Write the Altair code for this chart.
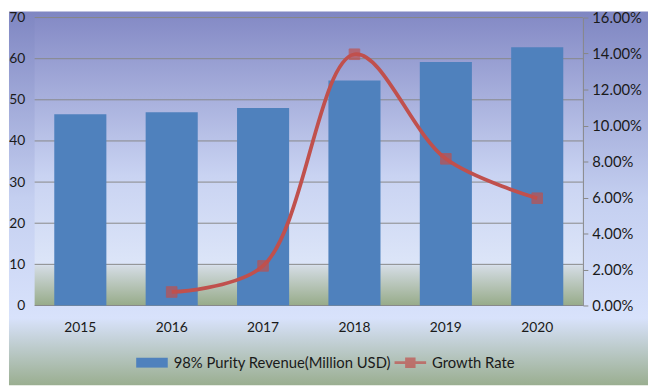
import altair as alt
import pandas as pd

# ---- data ----
years = ["2015", "2016", "2017", "2018", "2019", "2020"]
revenue = [46.5, 47.0, 48.0, 54.7, 59.2, 62.8]
growth_years = ["2016", "2017", "2018", "2019", "2020"]
growth = [0.0075, 0.022, 0.1396, 0.0815, 0.0596]
left_ticks = [0, 10, 20, 30, 40, 50, 60, 70]
right_ticks = [0, 0.02, 0.04, 0.06, 0.08, 0.10, 0.12, 0.14, 0.16]
rev_name = "98% Purity Revenue(Million USD)"
growth_name = "Growth Rate"

W, H = 556, 292
FONT = "Lato"
TXT = "#1a1a1a"
BLUE = "#4F81BD"
RED = "#C0504D"
GRID = "#878787"

rev_df = pd.DataFrame({"year": years, "value": revenue, "series": rev_name})
gr_df = pd.DataFrame({"year": growth_years, "value": growth, "series": growth_name})
grid_df = pd.DataFrame({"value": left_ticks})
one = pd.DataFrame({"k": [0]})

grad_outer = {
    "gradient": "linear", "x1": 0, "y1": 0, "x2": 0, "y2": 1,
    "stops": [
        {"offset": 0.0, "color": "#7f86c2"},
        {"offset": 0.5, "color": "#c4cff0"},
        {"offset": 0.82, "color": "#d8e2fb"},
        {"offset": 1.0, "color": "#9aae90"},
    ],
}
grad_plot = {
    "gradient": "linear", "x1": 0, "y1": 0, "x2": 0, "y2": 1,
    "stops": [
        {"offset": 0.0, "color": "#858bc6"},
        {"offset": 0.55, "color": "#c9d3f2"},
        {"offset": 0.855, "color": "#dce5f8"},
        {"offset": 0.865, "color": "#d3dbe2"},
        {"offset": 1.0, "color": "#97ab89"},
    ],
}

bg_outer = alt.Chart(one).mark_rect(fill=grad_outer).encode(
    x=alt.value(-26), x2=alt.value(622), y=alt.value(-6), y2=alt.value(373)
)
bg_plot = alt.Chart(one).mark_rect(fill=grad_plot).encode(
    x=alt.value(0), x2=alt.value(W), y=alt.value(0), y2=alt.value(H)
)

x_axis = alt.Axis(title=None, labelAngle=0, domain=False, ticks=False,
                  labelFont=FONT, labelFontSize=14, labelColor=TXT,
                  labelPadding=15, zindex=1)
x_scale = alt.Scale(domain=years, paddingInner=0.43, paddingOuter=0.215)

left_scale = alt.Scale(domain=[0, 70], nice=False, zero=True)
right_scale = alt.Scale(domain=[0, 0.16], nice=False, zero=True)

left_axis = alt.Axis(title=None, values=left_ticks, grid=False, domain=False,
                     ticks=False, labelFont=FONT, labelFontSize=14,
                     labelColor=TXT, labelPadding=10, zindex=1)

grid = alt.Chart(grid_df).mark_rule(color=GRID, strokeWidth=1).encode(
    y=alt.Y("value:Q", scale=left_scale, axis=left_axis)
)

bars = alt.Chart(rev_df).mark_bar().encode(
    x=alt.X("year:O", scale=x_scale, axis=x_axis),
    y=alt.Y("value:Q", scale=left_scale, axis=left_axis),
    fill=alt.Fill("series:N", scale=alt.Scale(domain=[rev_name], range=[BLUE]),
                  legend=alt.Legend(title=None, orient="none", legendX=103, legendY=334,
                                    symbolType="M-1,-0.3125H1V0.3125H-1Z",
                                    symbolSize=1024, symbolStrokeWidth=0,
                                    labelFont=FONT, labelFontSize=15, labelColor=TXT,
                                    labelOffset=6, labelLimit=400, padding=0, zindex=1)),
)

stroke_enc = alt.Stroke("series:N", scale=alt.Scale(domain=[growth_name], range=[RED]),
                        legend=alt.Legend(title=None, orient="none", legendX=365, legendY=334,
                                          symbolType="M-1,-0.09H1V0.09H-1Z M-0.33,-0.33H0.33V0.33H-0.33Z",
                                          symbolSize=1024, symbolStrokeWidth=0,
                                          symbolFillColor=RED,
                                          labelFont=FONT, labelFontSize=15, labelColor=TXT,
                                          labelOffset=6, labelLimit=400, padding=0, zindex=1))

right_axis = alt.Axis(title=None, orient="right", values=right_ticks, format=".2%",
                      grid=False, domain=True, domainColor=GRID, ticks=True,
                      tickColor=GRID, tickSize=5, labelFont=FONT, labelFontSize=15,
                      labelColor=TXT, labelPadding=4, zindex=1)

line = alt.Chart(gr_df).mark_line(interpolate="catmull-rom", strokeWidth=3.8).encode(
    x=alt.X("year:O", scale=x_scale, axis=x_axis),
    y=alt.Y("value:Q", scale=right_scale, axis=right_axis),
    stroke=stroke_enc,
)
points = alt.Chart(gr_df).mark_square(size=115, fill=RED, strokeWidth=1).encode(
    x=alt.X("year:O", scale=x_scale, axis=x_axis),
    y=alt.Y("value:Q", scale=right_scale, axis=right_axis),
    stroke=stroke_enc,
)

rev_layer = alt.layer(grid, bars)
gr_layer = alt.layer(line, points)

chart = alt.layer(bg_outer, bg_plot, rev_layer, gr_layer).resolve_scale(
    y="independent"
).properties(
    width=W, height=H, padding=0
).configure_view(strokeWidth=0)

chart.save("out.html", embed_options={"renderer": "svg", "actions": False})
